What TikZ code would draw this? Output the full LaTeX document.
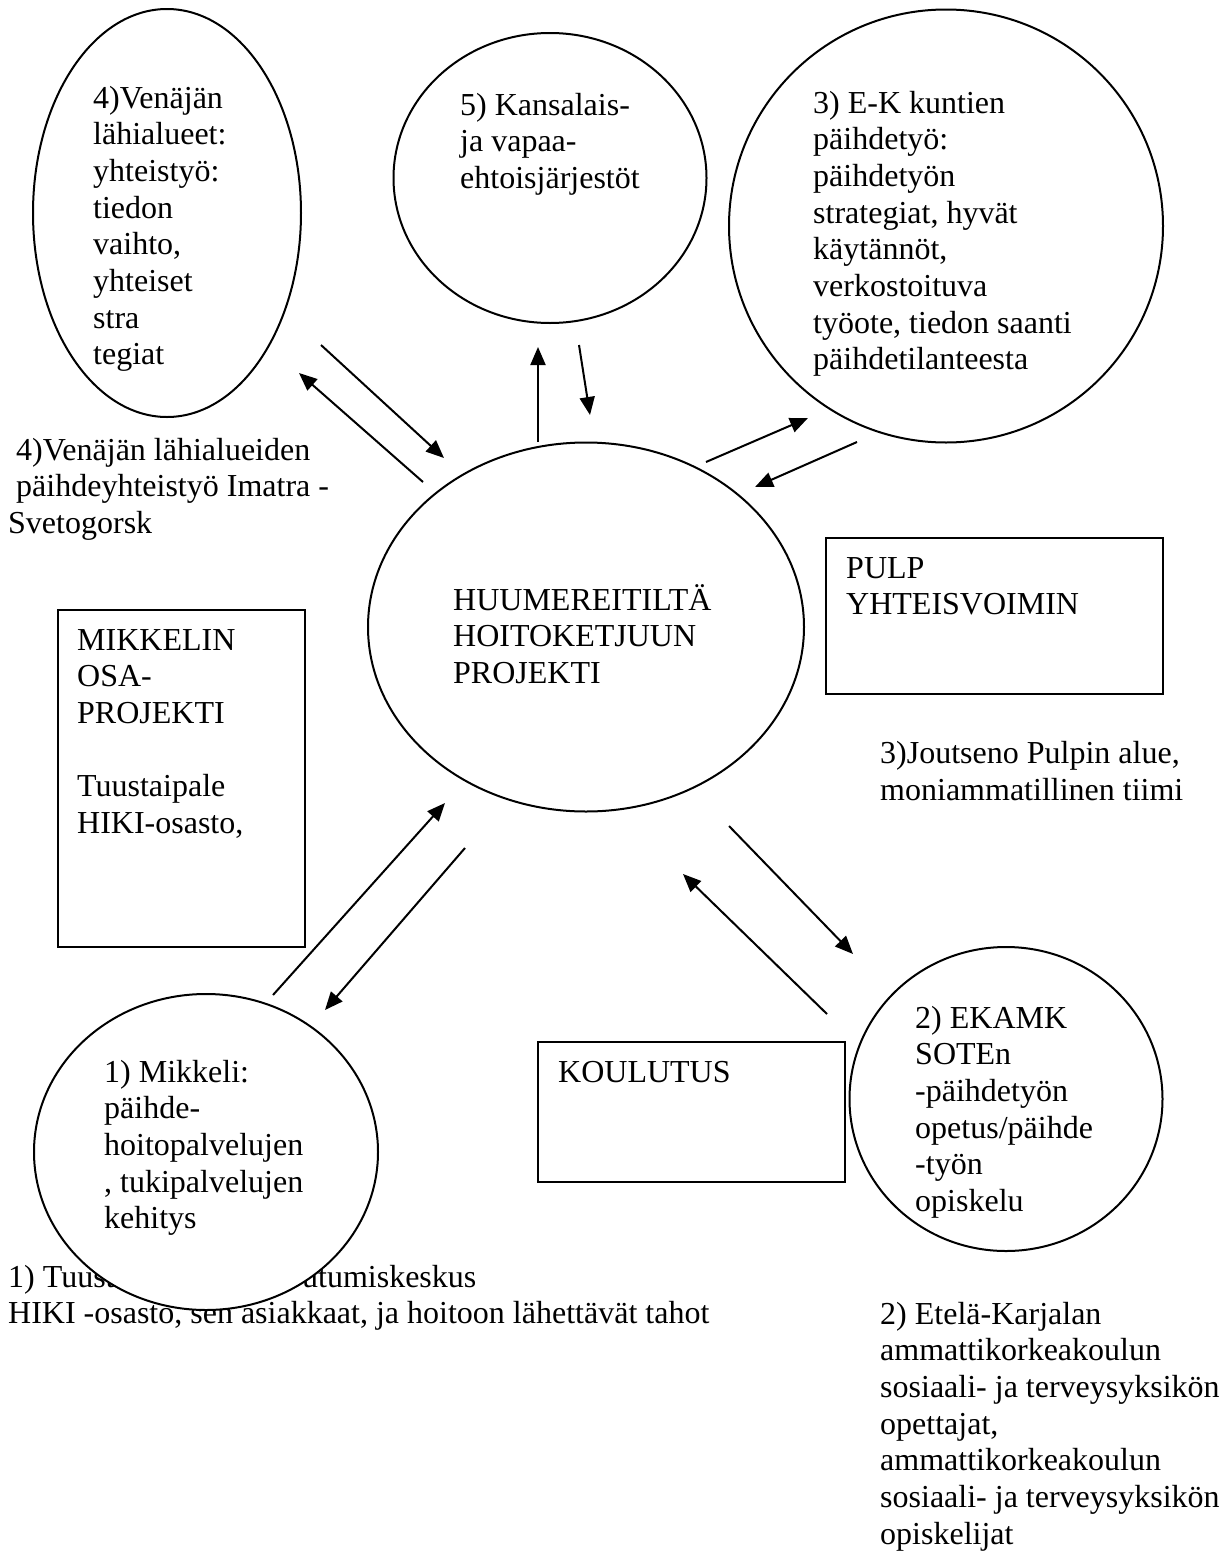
\documentclass[tikz,border=0pt]{standalone}
\usepackage{fontspec}
\setmainfont{Liberation Serif}
\usetikzlibrary{arrows.meta,shapes.geometric}
\begin{document}
\begin{tikzpicture}[x=1pt,y=-1pt,
  blob/.style={ellipse, draw, line width=2pt, fill=white, inner sep=0pt},
  panel/.style={rectangle, draw, line width=2pt, inner sep=0pt},
  % multi-line texts are placed by the baseline of their last line
  txt/.style={align=left, anchor=base west, inner sep=0pt, font=\fontsize{32}{36.7}\selectfont},
  link/.style={line width=2pt, -{Triangle[length=18pt,width=15pt]}}]
\useasboundingbox (0,0) rectangle (1231,1558);

% caption under the Mikkeli circle (partly covered by it)
\node[txt] (capone) at (8,1323.7) {1) Tuustaipaleen kuntoutumiskeskus\\HIKI -osasto, sen asiakkaat, ja hoitoon lähettävät tahot};

% circles
\node[blob, minimum width=268pt, minimum height=408pt] (venaja) at (167,213) {};
\node[blob, minimum width=313pt, minimum height=290pt] (kansa) at (550,178) {};
\node[blob, minimum width=434pt, minimum height=433pt] (ek) at (946,226) {};
\node[blob, minimum width=436pt, minimum height=369pt] (hub) at (586,627) {};
\node[blob, minimum width=344pt, minimum height=316pt] (mikkeli) at (206,1152) {};
\node[blob, minimum width=313pt, minimum height=304pt] (ekamk) at (1006,1099) {};

% boxes
\node[panel, minimum width=247pt, minimum height=337pt] (osa) at (181.5,778.5) {};
\node[panel, minimum width=337pt, minimum height=156pt] (pulp) at (994.5,616) {};
\node[panel, minimum width=307pt, minimum height=140pt] (koulu) at (691.5,1112) {};

% texts
\node[txt] (tvenaja) at (93,364.9) {4)Venäjän\\lähialueet:\\yhteistyö:\\tiedon\\vaihto,\\yhteiset\\stra\\tegiat};
\node[txt] (tkansa) at (460,188.4) {5) Kansalais-\\ja vapaa-\\ehtoisjärjestöt};
\node[txt] (tek) at (813,369.9) {3) E-K kuntien\\päihdetyö:\\päihdetyön\\strategiat, hyvät\\käytännöt,\\verkostoituva\\työote, tiedon saanti\\päihdetilanteesta};
\node[txt] (thub) at (453,683.4) {HUUMEREITILTÄ\\HOITOKETJUUN\\PROJEKTI};
\node[txt] (capfour) at (8,533.4) {\ 4)Venäjän lähialueiden\\\ päihdeyhteistyö Imatra -\\Svetogorsk};
\node[txt] (tosa) at (77,833.5) {MIKKELIN\\OSA-\\PROJEKTI\\[36.7pt]Tuustaipale\\HIKI-osasto,};
\node[txt] (tpulp) at (846,614.7) {PULP\\YHTEISVOIMIN};
\node[txt] (capthree) at (880,800) {3)Joutseno Pulpin alue,\\moniammatillinen tiimi};
\node[txt] (tkoulu) at (558,1082) {KOULUTUS};
\node[txt] (tmikkeli) at (104,1228.8) {1) Mikkeli:\\päihde-\\hoitopalvelujen\\, tukipalvelujen\\kehitys};
\node[txt] (tekamk) at (915,1211.5) {2) EKAMK\\SOTEn\\-päihdetyön\\opetus/päihde\\-työn\\opiskelu};
\node[txt] (captwo) at (880,1544.2) {2) Etelä-Karjalan\\ammattikorkeakoulun\\sosiaali- ja terveysyksikön\\opettajat,\\ammattikorkeakoulun\\sosiaali- ja terveysyksikön\\opiskelijat};

% arrow end points
\coordinate (a1) at (423,482);  \coordinate (b1) at (299,373);
\coordinate (a2) at (321,345);  \coordinate (b2) at (444,458);
\coordinate (a3) at (538,442);  \coordinate (b3) at (538,347);
\coordinate (a4) at (579,345);  \coordinate (b4) at (590,415);
\coordinate (a5) at (706,462);  \coordinate (b5) at (808,418);
\coordinate (a6) at (857,442);  \coordinate (b6) at (755,487);
\coordinate (a7) at (273,995);  \coordinate (b7) at (445,803);
\coordinate (a8) at (465,848);  \coordinate (b8) at (325,1010);
\coordinate (a9) at (827,1014); \coordinate (b9) at (683,874);
\coordinate (a10) at (729,826); \coordinate (b10) at (853,954);

\foreach \i in {1,...,10} \draw[link] (a\i) -- (b\i);
\end{tikzpicture}
\end{document}
